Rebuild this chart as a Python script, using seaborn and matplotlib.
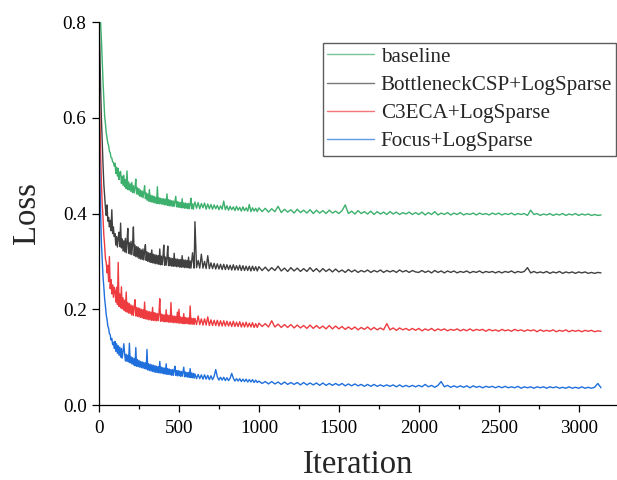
import numpy as np
import pandas as pd
import matplotlib
matplotlib.use("Agg")
import matplotlib.pyplot as plt
import seaborn as sns
from matplotlib.ticker import MultipleLocator

# ---------------- data (in 1/1000 loss units) ----------------
ITER = (list(range(0, 100, 5)) + list(range(100, 600, 5))
        + list(range(600, 1000, 10)) + list(range(1000, 3160, 20)))

SERIES_NAMES = ["baseline", "BottleneckCSP+LogSparse", "C3ECA+LogSparse", "Focus+LogSparse"]
COLORS = ["#3cb06c", "#404040", "#ee3b3f", "#1f6fdc"]

baseline = [
    # 0-95
    812, 806, 798, 762, 718, 676, 641, 604, 588, 569, 558, 547, 542, 530, 527, 517, 516, 508, 507, 499,
    # 100-595
    505, 484, 497, 478, 494, 471, 486, 488, 463, 478,
    459, 480, 456, 471, 452, 489, 450, 466, 449, 462,
    446, 465, 444, 458, 443, 455, 472, 441, 454, 439,
    452, 436, 449, 435, 447, 433, 444, 458, 431, 443,
    428, 441, 426, 450, 425, 438, 424, 437, 423, 436,
    422, 434, 421, 456, 421, 433, 420, 432, 420, 431,
    419, 431, 418, 430, 418, 441, 417, 429, 416, 428,
    416, 427, 415, 426, 415, 425, 436, 414, 425, 413,
    424, 413, 423, 412, 431, 412, 422, 411, 422, 411,
    421, 410, 421, 410, 420, 432, 410, 420, 409, 419,
    # 600-990
    424, 411, 423, 410, 421, 412, 422, 409, 420, 410,
    419, 409, 418, 410, 417, 408, 416, 409, 426, 408,
    416, 407, 415, 408, 414, 406, 415, 407, 413, 405,
    414, 406, 412, 405, 419, 404, 412, 405, 411, 404,
    # 1000-3140
    412, 404, 411, 403, 410, 404, 415, 402, 409, 403, 408, 401, 409, 402, 407, 401, 408, 400, 407, 401,
    406, 400, 407, 401, 405,
    400, 406, 418, 400, 405, 399, 406, 400, 404, 399, 405, 398, 404, 399, 403, 398, 404, 399, 403, 398,
    402, 399, 403, 398, 402,
    398, 403, 397, 402, 398, 404, 397, 401, 398, 402, 397, 401, 398, 402, 397, 400, 398, 401, 397, 401,
    398, 400, 397, 401, 398,
    401, 397, 400, 398, 401, 397, 400, 398, 400, 396, 407, 398, 400, 396, 399, 397, 400, 396, 399, 397,
    400, 396, 399, 397, 400, 396, 399, 397, 399, 396, 398, 396, 397,
]

bottleneck = [
    # 0-95
    800, 742, 664, 598, 548, 502, 462, 438, 412, 396, 418, 384, 392, 372, 386, 364, 408, 358, 372, 352,
    # 100-595
    358, 334, 352, 330, 349, 361, 331, 380, 328, 347,
    322, 343, 320, 348, 318, 341, 369, 317, 339, 315,
    342, 314, 337, 372, 312, 334, 310, 331, 309, 330,
    306, 327, 305, 324, 304, 326, 303, 321, 335, 302,
    320, 300, 318, 299, 317, 298, 324, 297, 315, 296,
    314, 295, 313, 295, 312, 294, 326, 293, 311, 293,
    310, 334, 292, 309, 292, 308, 332, 291, 308, 291,
    307, 290, 306, 290, 317, 290, 305, 289, 305, 289,
    304, 288, 304, 288, 312, 288, 303, 287, 303, 287,
    302, 287, 309, 286, 301, 286, 301, 318, 300, 286,
    # 600-990
    383, 287, 302, 286, 315, 286, 300, 285, 312, 285,
    297, 285, 296, 284, 295, 284, 294, 283, 294, 283,
    293, 283, 292, 282, 293, 282, 291, 282, 292, 281,
    291, 281, 290, 281, 290, 280, 290, 281, 289, 280,
    # 1000-3140
    289, 281, 288, 280, 287, 281, 290, 280, 286, 279, 287, 280, 286, 279, 285, 279, 287, 279, 285, 278,
    285, 279, 284, 278, 284,
    278, 282, 277, 283, 278, 282, 277, 281, 278, 282, 277, 281, 278, 282, 277, 281, 278, 281, 277, 282,
    278, 281, 277, 281, 278,
    277, 281, 277, 280, 276, 281, 277, 280, 276, 280, 277, 280, 276, 279, 277, 280, 276, 279, 277, 280,
    276, 279, 277, 279, 276,
    279, 276, 279, 277, 280, 276, 279, 277, 279, 287, 276, 279, 276, 278, 276, 279, 275, 278, 276, 279,
    275, 278, 276, 278, 275, 278, 276, 278, 275, 277, 275, 277, 276,
]

c3eca = [
    # 0-95
    680, 602, 521, 462, 418, 391, 355, 334, 306, 298, 276, 292, 258, 310, 243, 262, 232, 251, 225, 246,
    # 100-595
    238, 215, 246, 210, 298, 206, 232, 203, 247, 201,
    224, 198, 219, 196, 236, 194, 214, 192, 212, 191,
    209, 188, 207, 187, 206, 220, 186, 204, 185, 203,
    184, 202, 183, 200, 182, 199, 181, 215, 180, 197,
    179, 196, 178, 195, 178, 194, 177, 204, 177, 193,
    176, 192, 176, 191, 176, 191, 222, 175, 190, 175,
    189, 174, 188, 174, 199, 174, 188, 173, 187, 173,
    214, 173, 186, 172, 186, 172, 185, 172, 194, 171,
    200, 171, 184, 171, 183, 170, 191, 170, 183, 170,
    182, 170, 182, 169, 207, 169, 181, 169, 181, 168,
    # 600-990
    181, 168, 186, 168, 180, 167, 180, 167, 184, 166,
    178, 166, 177, 166, 177, 165, 176, 165, 176, 165,
    175, 165, 174, 164, 175, 164, 173, 164, 174, 163,
    172, 163, 173, 163, 171, 163, 172, 162, 170, 162,
    # 1000-3140
    171, 164, 170, 163, 176, 163, 169, 162, 168, 162, 168, 161, 167, 161, 166, 160, 167, 160, 166, 160,
    165, 159, 166, 159, 165,
    159, 164, 158, 163, 158, 163, 157, 162, 158, 163, 157, 162, 157, 161, 157, 170, 157, 161, 156, 161,
    157, 160, 156, 160, 156,
    160, 155, 159, 156, 160, 155, 159, 156, 159, 155, 158, 156, 159, 155, 158, 155, 159, 155, 158, 156,
    158, 154, 158, 155, 157,
    154, 158, 155, 157, 154, 158, 155, 157, 154, 157, 155, 157, 153, 157, 154, 156, 154, 157, 153, 156,
    154, 157, 153, 156, 154, 156, 153, 156, 154, 156, 153, 155, 154,
]

focus = [
    # 0-95
    600, 478, 401, 338, 302, 268, 247, 222, 207, 188, 179, 165, 160, 149, 147, 136, 139, 126, 131, 118,
    # 100-595
    133, 112, 128, 108, 124, 104, 121, 100, 118, 98,
    112, 128, 108, 92, 106, 91, 104, 90, 129, 88,
    101, 86, 99, 84, 97, 82, 120, 81, 95, 80,
    93, 79, 91, 78, 90, 77, 89, 76, 88, 75,
    116, 73, 86, 72, 85, 71, 84, 70, 83, 69,
    82, 68, 81, 68, 80, 67, 91, 67, 79, 66,
    78, 65, 77, 65, 86, 64, 76, 64, 75, 63,
    74, 62, 74, 62, 73, 81, 62, 72, 61, 72,
    61, 71, 60, 70, 60, 70, 79, 59, 69, 59,
    68, 58, 68, 58, 76, 57, 67, 57, 66, 56,
    # 600-990
    65, 55, 64, 55, 63, 54, 63, 54, 62, 53,
    61, 53, 60, 74, 59, 52, 58, 52, 58, 51,
    57, 51, 56, 66, 56, 50, 55, 50, 55, 49,
    54, 49, 54, 48, 53, 48, 53, 47, 52, 47,
    # 1000-3140
    50, 45, 49, 44, 49, 44, 48, 43, 48, 43, 47, 43, 47, 42, 47, 42, 46, 42, 46, 41,
    46, 41, 45, 41, 45,
    41, 45, 40, 44, 40, 44, 40, 43, 39, 43, 39, 43, 39, 42, 39, 42, 39, 42, 38, 42,
    38, 41, 38, 41, 38,
    41, 38, 43, 38, 41, 37, 41, 49, 38, 41, 37, 40, 37, 40, 37, 40, 36, 40, 37, 39,
    36, 39, 37, 39, 36,
    39, 36, 39, 36, 38, 36, 39, 35, 38, 36, 38, 35, 38, 36, 38, 35, 38, 36, 38, 35,
    37, 35, 38, 35, 37, 35, 38, 35, 37, 35, 37, 45, 36,
]

X_TICKS = [0, 500, 1000, 1500, 2000, 2500, 3000]
Y_TICKS = [0.0, 0.2, 0.4, 0.6, 0.8]

# ---------------- build table ----------------
frames = []
for name, vals in zip(SERIES_NAMES, [baseline, bottleneck, c3eca, focus]):
    assert len(vals) == len(ITER), (name, len(vals), len(ITER))
    frames.append(pd.DataFrame({"Iteration": ITER, "Loss": np.array(vals) / 1000.0, "Model": name}))
df = pd.concat(frames, ignore_index=True)

# ---------------- style ----------------
sns.set_style("ticks")
plt.rcParams["font.family"] = ["Liberation Serif", "DejaVu Serif"]

fig = plt.figure(figsize=(6.17, 4.80), dpi=100)
ax = fig.add_axes([0.1605, 0.15625, 0.8395, 0.79775])

sns.lineplot(data=df, x="Iteration", y="Loss", hue="Model", hue_order=SERIES_NAMES,
             palette=COLORS, estimator=None, errorbar=None, linewidth=1.0, ax=ax, legend=True)

ax.set_xlim(0, 3240)
ax.set_ylim(0, 0.8)
ax.set_xticks(X_TICKS)
ax.set_xticklabels([str(v) for v in X_TICKS])
ax.set_yticks(Y_TICKS)
ax.set_yticklabels([f"{v:.1f}" for v in Y_TICKS])
ax.xaxis.set_minor_locator(MultipleLocator(250))

for s in ["top", "right"]:
    ax.spines[s].set_visible(False)
for s in ["left", "bottom"]:
    ax.spines[s].set_linewidth(0.9)
    ax.spines[s].set_color("black")

ax.tick_params(axis="both", which="major", direction="out", length=5, width=0.9,
               labelsize=13.8, colors="black", pad=4)
ax.tick_params(axis="x", which="minor", direction="out", length=3, width=0.9, colors="black")
ax.tick_params(axis="x", which="major", pad=6)

ax.set_xlabel("Iteration", fontsize=23.5, labelpad=9)
ax.set_ylabel("Loss", fontsize=23.5, labelpad=15)

handles, labels = ax.get_legend_handles_labels()
leg = ax.legend(handles, labels, loc="upper left", bbox_to_anchor=(0.5235, 0.9110),
                bbox_transform=fig.transFigure, borderaxespad=0, frameon=True, fancybox=False,
                edgecolor="#333333", fontsize=15.2, handlelength=2.2, handletextpad=0.33,
                borderpad=0.2, labelspacing=0.4)
leg.get_frame().set_linewidth(1.0)
for h in leg.get_lines():
    h.set_linewidth(1.0)
    h.set_alpha(0.7)

fig.savefig("out.png", dpi=100)
